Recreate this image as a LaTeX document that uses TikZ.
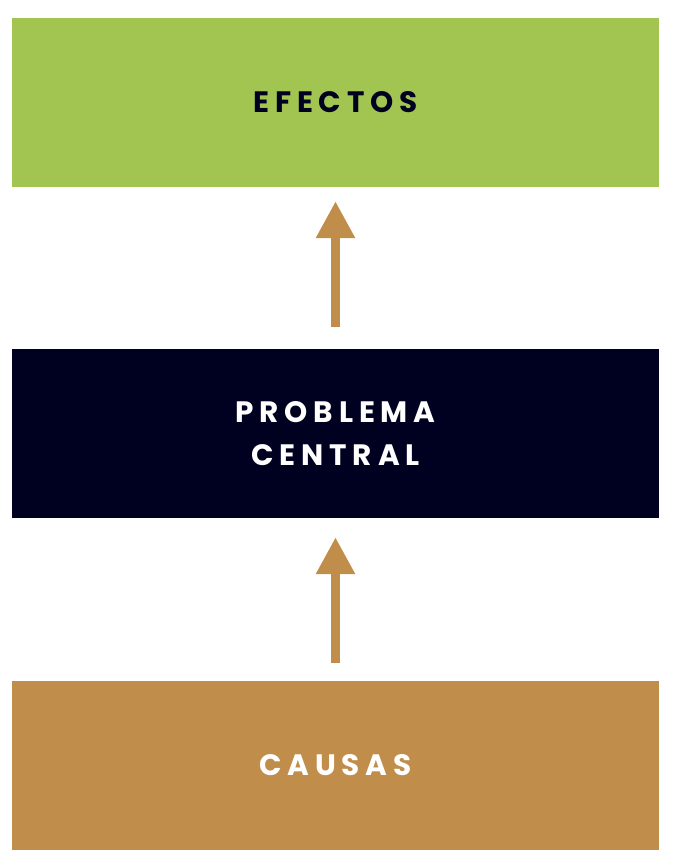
\documentclass[tikz,border=0pt]{standalone}
\usepackage{fontspec}
\setmainfont{Poppins}
\usetikzlibrary{arrows.meta}
\definecolor{efgreen}{HTML}{A2C450}
\definecolor{pcnavy}{HTML}{000020}
\definecolor{catan}{HTML}{C08E4A}
\newfontfamily\boxfont{Poppins}[LetterSpace=20]
\tikzset{
	caja/.style={minimum width=647pt, minimum height=169pt, inner sep=0pt, align=center,
		font=\boxfont\bfseries\fontsize{29.5}{43}\selectfont},
	flecha/.style={draw=catan, line width=9pt, -{Triangle[width=37pt,length=37pt]}}
}

\begin{document}
\begin{tikzpicture}[x=1pt,y=-1pt]
		%%%%% START %%%%%
		
		\useasboundingbox (0, 0) rectangle (674, 866);
		
		\node[caja, fill=efgreen, text=pcnavy] (efectos) at (335.5, 102.5) {EFECTOS};
		\node[caja, fill=pcnavy, text=white] (problema) at (335.5, 433.5) {PROBLEMA\\CENTRAL};
		\node[caja, fill=catan, text=white] (causas) at (335.5, 765.5) {CAUSAS};
		
		\draw[flecha, shorten <=22pt, shorten >=14pt] (problema.north) -- (efectos.south);
		\draw[flecha, shorten <=18pt, shorten >=19pt] (causas.north) -- (problema.south);
		
		%%%%% END %%%%%
	\end{tikzpicture}
\end{document}
